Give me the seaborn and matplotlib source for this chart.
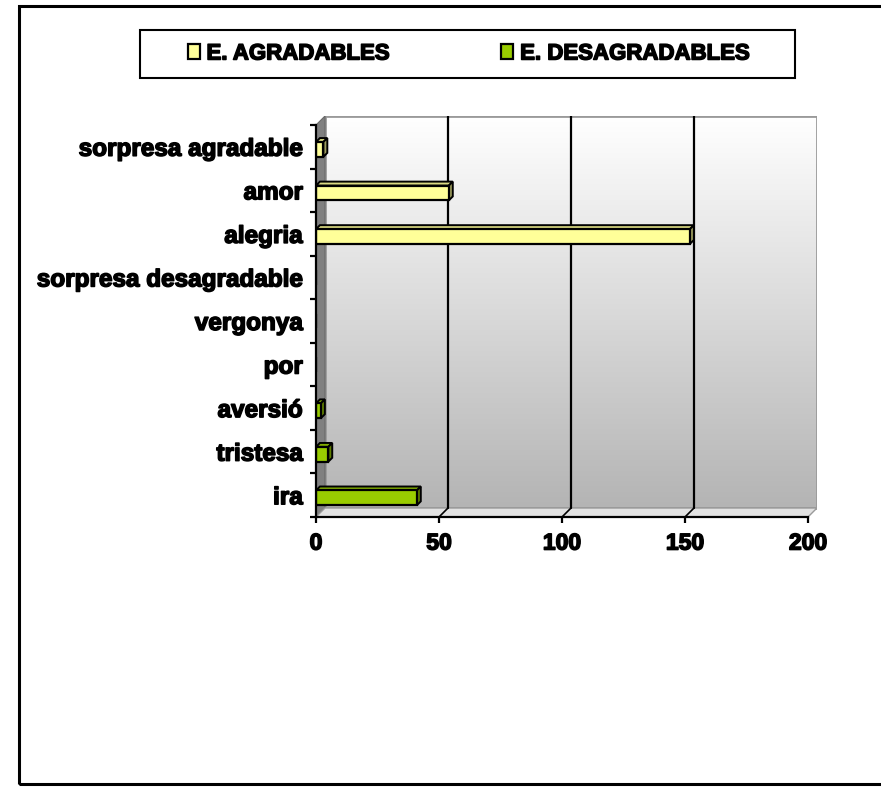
import numpy as np
import pandas as pd
import matplotlib
matplotlib.use("Agg")
import matplotlib.pyplot as plt
import matplotlib.patheffects as pe
import seaborn as sns
from matplotlib.patches import Polygon, Rectangle
from matplotlib.colors import to_rgb

# --- data -------------------------------------------------------------
categorias = ["sorpresa agradable", "amor", "alegria", "sorpresa desagradable",
              "vergonya", "por", "aversió", "tristesa", "ira"]
valores = [3, 54, 152, 0, 0, 0, 2, 5, 41]
grupos = ["E. AGRADABLES"] * 3 + ["E. DESAGRADABLES"] * 6
series = ["E. AGRADABLES", "E. DESAGRADABLES"]
colores = ["#FFFF99", "#99CC00"]
ticks_x = [0, 50, 100, 150, 200]

df = pd.DataFrame({"emocio": categorias, "valor": valores, "grup": grupos})

# --- style --------------------------------------------------------------
sns.set_theme(style="white")
plt.rcParams["font.family"] = ["Liberation Sans", "DejaVu Sans"]
plt.rcParams["font.weight"] = "bold"
plt.rcParams["text.color"] = "black"
plt.rcParams["xtick.color"] = "black"
plt.rcParams["ytick.color"] = "black"

heavy = [pe.withStroke(linewidth=1.1, foreground="black")]

W, H = 881, 787
fig = plt.figure(figsize=(W / 100, H / 100), dpi=100)
fig.patch.set_facecolor("white")

# pseudo-3D depth of the walls (data units)
DX = 3.66
DY = 0.2067
XMAX = ticks_x[-1]
n = len(categorias)

ax = fig.add_axes([316 / W, 1 - 517 / H, (817 - 316) / W, (517 - 116) / H])
ax.set_facecolor("none")

# back wall with vertical gradient
grad = np.linspace(1.0, 0.0, 256)[:, None]
top_c = np.array(to_rgb("#ffffff"))
bot_c = np.array(to_rgb("#b4b4b4"))
img = top_c[None, None, :] * grad[:, :, None] + bot_c[None, None, :] * (1 - grad[:, :, None])
ax.imshow(img, extent=[DX, XMAX + DX, n - 0.5 - DY, -0.5 - DY], aspect="auto",
          origin="upper", zorder=0, interpolation="bilinear")
ax.add_patch(Polygon([[DX, -0.5 - DY], [XMAX + DX, -0.5 - DY],
                      [XMAX + DX, n - 0.5 - DY], [DX, n - 0.5 - DY]],
                     closed=True, fill=False, edgecolor="#9a9a9a", lw=2, zorder=1))

# left wall
ax.add_patch(Polygon([[0, -0.5], [DX, -0.5 - DY], [DX, n - 0.5 - DY], [0, n - 0.5]],
                     closed=True, facecolor="#808080", edgecolor="#6a6a6a", lw=0.8, zorder=1))
# floor
ax.add_patch(Polygon([[0, n - 0.5], [XMAX, n - 0.5], [XMAX + DX, n - 0.5 - DY], [DX, n - 0.5 - DY]],
                     closed=True, facecolor="#e2e2e2", edgecolor="#9a9a9a", lw=1, zorder=1))

# gridlines on the back wall and their foot on the floor
for t in ticks_x[1:-1]:
    ax.plot([t + DX, t + DX], [-0.5 - DY, n - 0.5 - DY], color="black", lw=1.6, zorder=2)
    ax.plot([t, t + DX], [n - 0.5, n - 0.5 - DY], color="black", lw=1.2, zorder=2)

# bars (front faces)
sns.barplot(data=df, y="emocio", x="valor", hue="grup", hue_order=series,
            order=categorias, palette=dict(zip(series, colores)), dodge=False,
            saturation=1, width=0.34, edgecolor="black", linewidth=1.6, orient="h",
            ax=ax, zorder=4)

# depth faces of each bar
BDX, BDY = 1.6, 0.09
for p in list(ax.patches):
    if not isinstance(p, Rectangle) or p.get_width() <= 0:
        continue
    if p.get_height() <= 0 or p.get_height() > 1:
        continue
    p.set_y(p.get_y() + 0.06)
    x0, y0 = p.get_x(), p.get_y()
    x1, y1 = x0 + p.get_width(), y0 + p.get_height()
    base = np.array(p.get_facecolor()[:3])
    top = Polygon([[x0, y0], [x1, y0], [x1 + BDX, y0 - BDY], [x0 + BDX, y0 - BDY]],
                  closed=True, facecolor=base * 0.85, edgecolor="black", lw=1.4, zorder=3.5)
    side = Polygon([[x1, y0], [x1, y1], [x1 + BDX, y1 - BDY], [x1 + BDX, y0 - BDY]],
                   closed=True, facecolor=base * 0.62, edgecolor="black", lw=1.4, zorder=3.5)
    ax.add_patch(top)
    ax.add_patch(side)

ax.set_xlim(0, XMAX + DX)
ax.set_ylim(n - 0.5, -0.5 - DY)
ax.set_xlabel("")
ax.set_ylabel("")

# axes lines on the front plane
for s in ["top", "right"]:
    ax.spines[s].set_visible(False)
ax.spines["left"].set_bounds(-0.5, n - 0.5)
ax.spines["bottom"].set_bounds(0, XMAX)
for s in ["left", "bottom"]:
    ax.spines[s].set_color("black")
    ax.spines[s].set_linewidth(1.6)
    ax.spines[s].set_zorder(5)

ax.set_xticks(ticks_x)
ax.set_xticklabels([str(t) for t in ticks_x])
ax.set_yticks(range(n))
ax.set_yticklabels(categorias)
ax.set_yticks(np.arange(-0.5, n, 1.0), minor=True)
ax.tick_params(axis="y", which="major", length=0, pad=9.5, labelsize=17.5)
ax.tick_params(axis="y", which="minor", length=4, width=1.6, color="black", direction="out", left=True)
ax.tick_params(axis="x", which="major", length=4.5, width=1.6, color="black", direction="out",
               bottom=True, pad=6, labelsize=16.5)
for lab in ax.get_yticklabels() + ax.get_xticklabels():
    lab.set_fontweight("bold")
    lab.set_color("black")
    lab.set_path_effects(heavy)

# legend across the top
sns.move_legend(ax, loc="center", bbox_to_anchor=(469 / W, 1 - 54 / H),
                bbox_transform=fig.transFigure, ncol=2, frameon=False, title=None,
                fontsize=16, handlelength=0.55, handleheight=0.65, handletextpad=0.3,
                columnspacing=5.0)
leg = ax.get_legend()
for t in leg.get_texts():
    t.set_fontweight("bold")
    t.set_color("black")
    t.set_path_effects(heavy)
fig.patches.append(Rectangle((140 / W, 1 - 78 / H), 655 / W, 48 / H, transform=fig.transFigure,
                             fill=False, edgecolor="black", lw=1.5, zorder=10))

# outer chart frame
fig.patches.append(Rectangle((19 / W, 1 - 784 / H), (W + 10 - 19) / W, (784 - 6) / H,
                             transform=fig.transFigure, fill=False, edgecolor="black",
                             lw=2.2, zorder=10))

fig.savefig("out.png", dpi=100, facecolor="white")
